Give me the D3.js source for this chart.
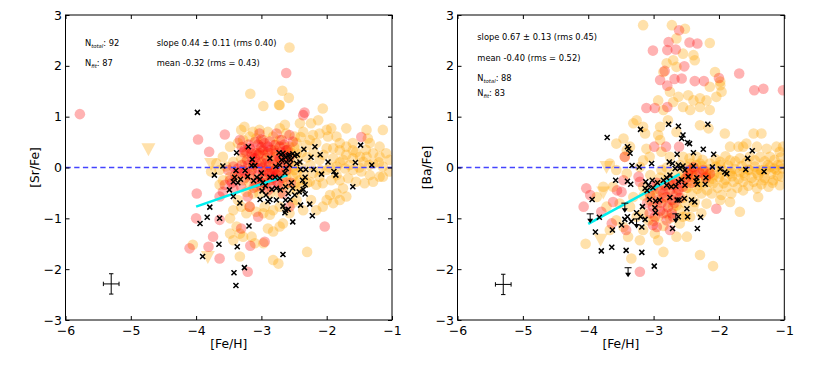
<!DOCTYPE html>
<html><head><meta charset="utf-8">
<script src="https://cdn.jsdelivr.net/npm/d3@7"></script>
<style>body{margin:0;background:#fff}svg{display:block}text{font-family:"DejaVu Sans",sans-serif;fill:#000}</style>
</head><body><svg id="c" width="817" height="372"></svg>
<script>
const xTicks=[-6,-5,-4,-3,-2,-1];
const yTicks=[-3,-2,-1,0,1,2,3];
const xDomain=[-6,-1], yDomain=[-3,3];

// ---------- [Sr/Fe] panel ----------
const srOrange=[[-2.57,2.36],[-2.68,1.51],[-2.58,1.37],[-2.73,1.23],[-3.17,1.45],
[-2.97,1.21],[-2.72,1.23],[-2.06,1.16],[-2.13,0.93],[-2.24,0.87],[-2.41,0.87],[-2.00,0.74],[-1.93,0.77],[-1.70,0.77],[-1.39,0.74],[-1.14,0.74],
[-3.26,0.80],[-3.31,0.74],[-3.13,0.70],[-3.03,0.74],[-2.90,0.70],[-2.72,0.77],[-2.64,0.84],[-2.62,0.67],[-2.49,0.61],[-2.36,0.70],[-2.21,0.64],[-2.11,0.67],[-1.98,0.61],[-1.85,0.61],
[-1.80,0.48],[-1.70,0.41],[-1.60,0.48],[-1.37,0.57],[-1.34,0.48],[-1.19,0.41],[-1.09,0.28],[-1.04,0.15],[-1.19,0.21],[-1.29,0.28],[-1.39,0.21],[-1.49,0.21],[-1.60,0.34],[-1.70,0.25],[-1.80,0.34],[-1.90,0.38],[-2.00,0.38],
[-2.16,0.48],[-2.26,0.54],[-2.31,0.44],[-2.46,0.48],[-2.57,0.41],[-2.72,0.54],[-2.82,0.61],[-2.97,0.54],[-3.08,0.57],[-3.18,0.61],[-3.28,0.54],[-3.36,0.48],[-3.48,0.41],[-3.59,0.21],[-3.69,0.08],[-3.77,-0.08],[-3.64,-0.05],[-3.54,0.02],[-3.43,0.11],[-3.31,0.18],[-3.23,0.28],[-3.08,0.28],[-2.97,0.25],[-2.80,0.34],[-2.46,0.28],
[-2.11,0.15],[-1.90,0.18],[-1.75,0.15],[-1.60,0.18],[-1.44,0.11],[-1.29,0.08],[-1.14,0.02],[-1.04,-0.08],[-1.19,-0.18],[-1.34,-0.15],[-1.47,-0.08],[-1.60,-0.05],[-1.72,-0.02],[-1.85,0.02],[-2.00,-0.05],[-2.11,-0.18],[-2.21,-0.11],[-2.26,-0.28],[-2.16,-0.34],[-2.06,-0.31],[-1.93,-0.25],[-1.80,-0.25],[-1.67,-0.21],[-1.55,-0.28],[-1.42,-0.31],[-1.29,-0.28],[-1.14,-0.18],
[-1.75,-0.41],[-1.85,-0.51],[-1.95,-0.54],[-2.00,-0.64],[-1.90,-0.70],[-1.80,-0.64],[-1.70,-0.57],[-2.06,-0.77],[-2.16,-0.84],[-2.24,-0.64],[-2.36,-0.84],[-2.46,-0.64],[-2.52,-0.70],[-2.57,-0.90],[-2.72,-0.77],[-2.82,-0.84],[-2.87,-0.93],[-2.95,-0.77],[-2.97,-0.90],[-3.08,-0.87],[-3.18,-0.77],[-3.23,-0.90],[-3.31,-0.77],[-3.36,-0.64],[-3.43,-0.84],[-3.48,-1.00],
[-3.38,-1.16],[-3.48,-1.30],[-3.43,-1.43],[-3.33,-1.30],[-3.28,-1.36],[-3.15,-1.36],[-3.10,-1.49],[-2.97,-1.49],[-2.90,-1.20],[-2.82,-1.26],[-2.72,-1.16],[-2.67,-1.10],[-2.82,-1.82],[-2.74,-1.89],[-2.30,-1.66],[-3.33,-1.75],[-4.05,-1.52],
[-3.13,0.02],[-3.03,0.08],[-2.92,-0.05],[-2.82,0.08],[-2.72,-0.05],[-2.62,-0.18],[-2.52,-0.18],[-2.87,-0.25],[-2.97,-0.34],[-3.08,-0.38],[-3.18,-0.31],[-3.28,-0.25],[-3.38,-0.18],[-3.48,-0.18],[-3.59,-0.25],[-3.64,-0.34],[-3.23,-0.48],[-3.13,-0.51],[-3.03,-0.51],[-2.87,-0.51],[-2.72,-0.51],[-2.57,-0.44],[-2.41,-0.38],[-2.41,-0.25],[-2.46,-0.11],[-2.52,0.02],[-2.77,0.21],[-2.87,0.28],[-3.00,0.34],[-2.57,0.11],
[-2.55,0.30],[-2.45,0.15],[-2.40,0.00],[-2.35,-0.15],[-2.30,0.20],[-2.50,-0.05],[-2.65,0.40],[-2.70,0.10],[-2.85,0.00],[-3.00,-0.20],[-3.15,-0.15],[-3.25,0.10],[-2.95,0.15],[-2.75,-0.15],[-2.60,-0.30],[-2.45,-0.45],[-2.30,-0.30],[-2.20,0.30],[-2.05,0.25],[-1.95,0.00],[-1.80,0.10],[-1.65,0.05],[-1.50,0.00],[-1.35,0.05],[-1.20,0.10],[-2.25,0.05],[-2.10,-0.05],[-1.85,-0.15],[-1.55,0.30],[-1.40,0.35],
[-2.62,0.25],[-2.50,0.40],[-2.38,0.30],[-2.60,-0.05],[-2.48,-0.30],[-2.68,-0.35],[-2.78,0.45],[-2.40,0.60]];
const srRed=[[-5.78,1.05],[-2.62,1.86],[-2.34,1.08],[-2.36,1.03],[-3.97,0.55],[-3.80,0.31],[-3.56,0.65],[-3.33,0.54],[-3.03,0.67],[-3.00,0.55],[-2.87,0.51],[-2.77,0.67],[-2.57,0.64],[-2.52,0.51],[-1.47,0.60],
[-3.26,0.34],[-3.15,0.28],[-3.10,0.18],[-3.03,0.28],[-2.92,0.18],[-2.90,0.41],[-2.80,0.44],[-2.72,0.41],[-2.62,0.34],[-2.69,0.54],
[-3.05,-0.02],[-2.97,-0.08],[-3.18,-0.15],[-3.28,-0.05],[-3.36,-0.02],[-3.43,0.02],[-3.51,-0.05],[-3.48,-0.25],[-3.56,-0.34],[-3.59,-0.48],[-3.64,-0.57],[-3.43,-0.41],[-3.31,-0.38],[-3.21,-0.57],[-3.18,-0.77],
[-2.85,-0.38],[-2.72,-0.34],[-2.67,-0.51],[-2.57,-0.77],[-3.05,-0.97],[-3.31,-1.20],[-3.64,-1.03],[-3.74,-1.36],[-3.81,-1.56],[-3.64,-1.79],[-3.99,-0.51],[-4.00,-1.00],[-4.10,-1.59],[-3.21,-2.05],[-3.17,-1.54],[-2.95,-1.46],[-2.03,-1.16],
[-2.87,-0.11],[-2.77,-0.15],[-2.62,-0.05],[-2.57,0.21],[-3.00,0.10],[-2.95,-0.20],[-3.10,-0.30],[-2.80,-0.05],[-2.75,0.10],[-3.20,0.05],[-2.90,0.30],[-3.05,0.45],
[-3.30,0.40],[-3.20,0.45],[-3.10,0.50],[-3.00,0.40],[-2.95,0.48],[-2.85,0.35],[-2.78,0.28],[-2.70,0.30],[-2.65,0.20],[-2.60,0.10],[-2.68,0.00],[-2.75,-0.10],[-2.82,-0.20],[-2.90,-0.10],[-2.98,0.00],[-3.08,0.10],[-3.15,0.20],[-3.22,0.15],[-3.30,0.05],[-3.35,-0.10],[-3.25,-0.20],[-3.15,-0.05],[-3.05,-0.15],[-2.95,-0.30],[-2.85,-0.25],[-2.75,-0.30],[-2.68,-0.20],[-3.12,-0.40],[-3.00,-0.38],[-2.90,-0.45],[-3.40,-0.15],[-3.45,-0.30],[-3.28,0.30],[-2.60,0.35],[-2.55,-0.30],[-2.65,0.45],[-3.05,0.25],[-2.88,0.05],[-2.80,0.15],[-3.18,0.38],
[-3.12,0.05],[-2.93,0.08],[-2.83,-0.08],[-3.02,-0.28],[-3.25,-0.10],[-2.72,0.18],[-2.97,0.35],[-3.12,0.30]];
const srCross=[[-3.98,1.085],[-3.20,0.41],[-3.38,0.29],[-3.59,0.03],[-3.72,-0.15],[-3.14,0.16],[-3.15,0.04],[-3.10,0.04],[-3.39,-0.06],[-3.41,-0.19],[-3.32,-0.23],[-3.43,-0.28],[-3.36,-0.30],[-3.21,-0.18],[-3.25,-0.06],[-3.12,-0.26],[-3.07,-0.19],[-3.02,-0.23],[-3.00,-0.11],[-2.98,-0.30],
[-2.87,0.18],[-2.73,0.29],[-2.70,0.25],[-2.67,0.28],[-2.63,0.20],[-2.59,0.23],[-2.57,0.25],[-2.52,0.27],[-2.49,0.23],[-2.45,0.25],[-2.55,0.15],[-2.62,0.11],[-2.69,0.15],[-2.72,0.05],[-2.78,0.02],[-2.62,-0.02],[-2.57,0.05],[-2.64,-0.11],[-2.72,-0.21],[-2.79,-0.19],[-2.87,-0.19],
[-2.94,-0.36],[-2.99,-0.46],[-2.93,-0.54],[-2.84,-0.43],[-2.77,-0.41],[-2.71,-0.44],[-2.63,-0.38],[-2.54,-0.30],[-2.52,-0.41],[-2.59,-0.51],[-2.49,-0.54],[-2.56,-0.63],[-2.63,-0.64],[-2.67,-0.76],[-2.63,-0.84],[-2.59,-0.82],[-2.64,-0.89],[-2.77,-0.64],[-2.87,-0.63],[-2.90,-0.67],[-3.02,-0.63],
[-3.33,-0.70],[-3.43,-0.57],[-3.49,-0.44],[-3.79,-0.78],[-3.83,-0.98],[-3.64,-1.00],[-3.94,-1.10],[-3.19,-1.15],[-3.65,-1.51],[-3.37,-1.56],[-3.90,-1.75],[-3.26,-1.97],[-3.42,-2.07],[-3.39,-2.32],[-2.67,-1.71],[-2.52,-1.07],[-2.22,-0.95],[-2.26,-0.72],[-2.40,-0.74],
[-1.60,-0.38],[-1.31,0.05],[-1.48,0.44],[-1.56,0.10],[-1.98,0.11],[-1.89,-0.08],[-1.86,-0.15],[-2.08,-0.13],[-2.10,0.25],[-2.18,0.41],[-2.20,-0.04],[-2.24,0.20],[-2.35,0.36],[-2.32,-0.04],[-2.40,-0.04],[-2.33,-0.19],[-2.37,-0.25],[-2.33,-0.34],[-2.36,-0.43],[-2.33,-0.52],[-2.42,-0.48],[-2.41,0.11],[-2.46,0.08]];
const srTri=[[-4.73,0.35],[-3.77,0.06],[-3.82,-1.77]];
const srUpper=[];
const srFit=[[-4.0,-0.77],[-2.6,-0.15]];
const srErr={x:-5.30,y:-2.29,dx:0.12,dy:0.20};
const srNotes={nTotal:92,nFit:87,slope:"slope 0.44 \u00b1 0.11 (rms 0.40)",mean:"mean -0.32 (rms = 0.43)"};

// ---------- [Ba/Fe] panel ----------
const baOrange=[[-3.16,2.80],[-2.72,2.80],[-2.52,2.73],[-2.65,2.54],[-2.14,2.45],[-2.55,2.24],[-2.39,2.21],[-2.37,2.11],[-2.80,2.05],[-2.70,2.11],[-2.65,1.98],[-2.85,1.88],
[-2.75,1.49],[-2.62,1.39],[-2.47,1.42],[-2.39,1.32],[-2.29,1.36],[-2.19,1.32],[-2.04,1.39],[-1.96,1.49],[-1.98,1.62],[-2.06,1.88],[-1.98,1.69],[-2.14,1.59],[-2.93,1.32],[-2.70,1.29],[-2.55,1.19],[-2.85,1.13],[-2.44,1.13],[-2.29,1.19],[-2.14,1.13],
[-3.26,0.93],[-3.16,0.80],[-3.13,0.67],[-3.31,0.87],[-2.90,0.80],[-2.78,0.93],[-2.65,0.70],[-2.29,0.83],[-2.16,0.77],[-1.91,0.67],[-1.47,0.67],[-1.35,0.67],[-1.58,0.47],[-1.63,0.41],[-1.70,0.41],[-1.83,0.41],
[-3.46,0.57],[-3.41,0.34],[-3.57,0.47],[-3.11,0.37],[-3.06,0.21],[-2.90,0.54],[-2.93,0.64],[-2.88,0.31],[-2.75,0.21],[-2.55,0.21],[-2.34,0.21],
[-2.44,0.08],[-2.29,0.08],[-2.14,0.08],[-1.98,0.11],[-1.83,0.14],[-1.68,0.18],[-1.53,0.21],[-1.37,0.21],[-1.22,0.21],[-1.07,0.31],[-1.02,0.41],[-1.12,0.41],[-1.27,0.37],[-1.42,0.41],
[-1.22,0.01],[-1.12,-0.05],[-1.02,-0.02],[-1.37,-0.05],[-1.53,-0.05],[-1.68,-0.09],[-1.83,-0.12],[-1.98,-0.12],[-2.14,-0.12],[-2.29,-0.12],[-2.42,-0.12],
[-2.37,-0.28],[-2.24,-0.31],[-2.09,-0.31],[-1.93,-0.31],[-1.78,-0.28],[-1.63,-0.28],[-1.47,-0.28],[-1.32,-0.25],[-1.17,-0.25],[-1.04,-0.18],[-1.07,-0.35],[-1.24,-0.38],[-1.42,-0.41],[-1.63,-0.45],[-1.81,-0.51],[-1.96,-0.54],[-2.11,-0.51],[-2.27,-0.51],[-2.42,-0.51],
[-2.37,-0.68],[-2.19,-0.71],[-1.98,-0.64],[-1.83,-0.68],[-1.40,-0.58],[-1.68,-0.87],[-2.27,-0.90],[-2.44,-0.97],
[-4.04,-1.50],[-3.67,-1.23],[-3.57,-1.04],[-3.46,-1.17],[-3.39,-1.36],[-3.34,-1.79],[-3.21,-1.43],[-3.16,-1.23],[-3.08,-1.04],[-2.98,-1.30],[-2.93,-1.43],[-2.85,-1.66],[-2.65,-1.36],[-2.49,-1.36],[-2.29,-1.72],[-2.09,-1.94],
[-2.93,-0.97],[-2.80,-0.90],[-2.70,-0.77],[-2.60,-0.84],[-2.55,-0.97],[-2.39,-0.77],
[-3.36,0.41],[-3.44,0.21],[-3.67,0.08],[-3.57,-0.05],[-3.41,-0.12],[-3.16,0.14],[-3.21,0.01],[-3.62,-0.38],[-3.77,-0.38],[-3.87,-0.58],[-3.72,-0.77],[-3.52,-0.71],[-3.31,-0.58],[-3.16,-0.38],[-3.06,-0.51],[-3.16,-0.90],[-3.26,-0.97],[-3.36,-0.77],
[-2.90,-0.20],[-2.75,-0.35],[-2.60,-0.20],[-2.50,-0.40],[-2.70,-0.55],[-2.85,-0.60],[-3.00,-0.45],[-2.55,-0.60],[-2.45,-0.25],[-2.60,0.05],[-2.80,0.00],[-3.05,-0.15],[-2.95,-0.75],[-2.75,-1.00],[-2.60,-1.10],[-2.85,-1.15],[-3.00,-1.05],[-2.50,-0.95],
[-2.50,0.02],[-2.38,-0.03],[-2.26,0.03],[-2.16,-0.04],[-2.05,0.02],[-1.95,-0.05],[-1.86,0.04],[-1.76,-0.03],[-1.65,0.03],[-1.55,-0.04],[-1.45,0.02],[-1.35,-0.06],[-1.25,0.05],[-1.15,-0.02],[-1.05,0.06],
[-2.52,-0.22],[-2.40,-0.18],[-2.30,-0.25],[-2.20,-0.17],[-2.10,-0.22],[-2.00,-0.19],[-1.90,-0.24],[-1.80,-0.17],[-1.70,-0.22],[-1.60,-0.16],[-1.50,-0.20],[-1.40,-0.15],[-1.30,-0.20],[-1.20,-0.12],[-1.10,-0.16],
[-2.45,0.18],[-2.25,0.15],[-2.05,0.16],[-1.90,0.22],[-1.75,0.12],[-1.58,0.10],[-1.45,0.14],[-1.30,0.12],[-1.15,0.15],[-1.05,0.20],
[-2.48,-0.40],[-2.33,-0.42],[-2.18,-0.45],[-2.02,-0.40],[-1.88,-0.38],[-1.72,-0.40],[-1.55,-0.36],[-1.35,-0.33],[-1.18,-0.30],
[-2.92,-0.35],[-2.82,-0.45],[-2.70,-0.30],[-2.62,-0.42],[-2.55,-0.15],[-2.68,-0.10],[-2.78,-0.20],[-2.88,-0.05],[-2.95,-0.55],[-2.80,-0.70],[-2.65,-0.75],[-2.52,-0.70],[-3.05,-0.65],[-3.15,-0.55],
[-2.35,0.05],[-2.20,-0.08],[-2.08,-0.15],[-1.98,0.05],[-1.82,-0.08],[-1.62,-0.10],[-1.42,-0.10],[-1.28,-0.05],[-1.10,0.05],[-2.45,-0.08],[-2.32,-0.35],[-2.15,-0.28]];
const baRed=[[-2.61,2.70],[-2.77,2.47],[-2.79,2.31],[-2.66,2.32],[-2.45,2.46],[-2.33,2.44],[-3.01,2.30],[-2.53,1.99],[-2.83,1.90],[-2.90,1.72],[-2.79,1.61],[-2.68,1.74],[-2.57,1.75],[-2.37,1.70],[-2.23,1.70],[-2.00,1.76],[-1.69,1.85],[-1.46,1.52],[-1.32,1.55],[-1.02,1.52],
[-3.11,1.17],[-2.98,1.17],[-2.79,1.19],[-2.99,0.41],[-2.81,0.41],[-2.61,0.41],[-3.23,-0.18],[-3.21,-0.28],[-3.44,0.21],
[-4.03,-0.41],[-3.97,-0.54],[-4.07,-0.77],[-3.80,-0.87],[-3.64,-1.10],[-3.42,-1.23],[-3.21,-2.05],[-3.56,-0.45],[-3.49,-0.48],[-3.62,-0.68],[-3.01,-1.13],[-2.04,-0.81],
[-3.01,-0.38],[-2.90,-0.45],[-2.83,-0.35],[-2.75,-0.25],[-2.65,-0.25],[-2.80,-0.58],[-2.93,-0.64],[-3.01,-0.77],[-2.85,-0.90],[-2.72,-0.64],[-2.65,-0.51],[-2.55,-0.38],[-2.47,-0.12],[-2.39,0.01],[-2.24,-0.05],[-2.14,-0.12],
[-2.70,-0.97],[-2.98,-0.97],[-2.95,-1.17],[-2.80,-1.04],[-3.06,-0.90],[-2.75,-1.23],[-3.46,-0.25],
[-2.95,-0.30],[-2.85,-0.50],[-2.75,-0.45],[-2.70,-0.35],[-2.62,-0.45],[-2.58,-0.30],[-2.50,-0.20],[-2.42,-0.30],[-2.35,-0.15],[-2.88,-0.70],[-2.78,-0.78],[-2.68,-0.70],[-3.05,-0.55],[-3.10,-0.70],[-2.90,-0.85],[-2.72,-0.90],[-2.60,-0.60],[-2.45,-0.05],[-2.30,-0.10],[-2.20,-0.20]];
const baCross=[[-3.71,0.59],[-3.20,0.75],[-2.77,0.85],[-2.62,0.81],[-2.17,0.85],[-2.55,0.64],[-2.57,0.57],[-3.40,0.41],[-3.38,0.37],[-3.36,0.28],[-2.48,0.49],[-2.45,0.47],[-2.24,0.36],[-2.08,0.26],[-1.49,0.33],[-1.56,0.18],[-2.39,0.29],[-2.64,0.26],
[-2.76,0.11],[-2.71,0.08],[-2.62,0.05],[-2.60,-0.02],[-2.55,0.03],[-2.52,-0.05],[-2.67,-0.02],[-2.47,-0.18],[-2.39,0.03],[-2.34,-0.20],[-2.35,-0.27],[-2.33,-0.33],[-2.20,-0.20],[-2.21,-0.33],[-2.10,0.01],[-1.98,-0.03],[-1.91,-0.09],[-1.88,-0.12],[-1.59,-0.04],[-1.31,-0.08],
[-3.58,-0.25],[-3.40,-0.27],[-3.35,-0.33],[-3.12,-0.28],[-3.02,-0.25],[-3.08,-0.35],[-3.13,-0.41],[-3.10,-0.45],[-3.01,-0.40],[-2.94,-0.30],[-2.85,-0.25],[-2.80,-0.20],[-2.75,-0.15],[-2.80,-0.35],[-2.73,-0.38],[-2.66,-0.37],[-2.62,-0.28],[-2.57,-0.24],[-2.52,-0.35],
[-2.75,-0.59],[-2.64,-0.64],[-2.61,-0.64],[-2.53,-0.61],[-2.42,-0.64],[-2.37,-0.68],[-2.49,-0.81],[-2.48,-0.97],[-2.28,-0.98],[-2.33,-1.20],[-2.71,-1.20],[-2.62,-0.97],
[-2.91,-0.64],[-2.97,-0.66],[-3.06,-0.63],[-2.98,-0.79],[-2.97,-0.89],[-3.26,-0.89],[-3.17,-0.77],[-3.20,-0.97],[-3.13,-1.02],[-3.18,-1.17],[-3.34,-1.06],[-3.40,-0.97],[-3.44,-1.02],[-3.49,-1.13],
[-3.94,-0.63],[-3.89,-1.27],[-3.80,-1.64],[-3.64,-1.57],[-3.63,-1.23],[-3.18,-1.67],[-2.99,-1.94],[-3.83,-0.98],[-3.42,-1.63],[-3.03,0.08],[-3.33,0.04],[-3.22,0.01]];
const baTri=[[-3.72,0.0],[-3.77,-0.5],[-3.81,-1.43]];
const baUpper=[[-3.97,-1.01],[-3.44,-0.80],[-3.26,-1.11],[-3.39,-2.07],[-2.66,-1.01]];
const baFit=[[-4.0,-1.11],[-2.6,-0.13]];
const baErr={x:-5.30,y:-2.30,dx:0.12,dy:0.20};
const baNotes={nTotal:88,nFit:83,slope:"slope 0.67 \u00b1 0.13 (rms 0.45)",mean:"mean -0.40 (rms = 0.52)"};

// ---------- layout ----------
const plotTop=15,plotBottom=320;
const panels=[
 {x0:65.5,x1:392,label:"[Sr/Fe]",labelX:38.5,orange:srOrange,red:srRed,cross:srCross,tri:srTri,upper:srUpper,fit:srFit,err:srErr,notes:srNotes,
  notePos:{nTotal:[85,46],nFit:[85,66],slope:[156.7,46],mean:[156.7,66]}},
 {x0:457.5,x1:784.3,label:"[Ba/Fe]",labelX:431,orange:baOrange,red:baRed,cross:baCross,tri:baTri,upper:baUpper,fit:baFit,err:baErr,notes:baNotes,
  notePos:{slope:[477.3,39.5],mean:[477.3,60.5],nTotal:[477.3,81],nFit:[477.3,96]}}
];
const svg=d3.select("#c");
panels.forEach((p,i)=>{
  const x=d3.scaleLinear().domain(xDomain).range([p.x0,p.x1]);
  const y=d3.scaleLinear().domain(yDomain).range([plotBottom,plotTop]);
  const g=svg.append("g");
  const cid="clip"+i;
  svg.append("clipPath").attr("id",cid).append("rect").attr("x",p.x0).attr("y",plotTop).attr("width",p.x1-p.x0).attr("height",plotBottom-plotTop);
  const pg=g.append("g").attr("clip-path",`url(#${cid})`);
  pg.selectAll("circle.o").data(p.orange).join("circle").attr("class","o")
    .attr("cx",d=>x(d[0])).attr("cy",d=>y(d[1])).attr("r",5.3).attr("fill","#ffa500").attr("fill-opacity",0.33);
  pg.selectAll("path.t").data(p.tri).join("path").attr("class","t")
    .attr("d",d=>{const cx=x(d[0]),cy=y(d[1]);return `M${cx-7},${cy-6.5}L${cx+7},${cy-6.5}L${cx},${cy+6.5}Z`;})
    .attr("fill","#ffa500").attr("fill-opacity",0.33);
  pg.selectAll("circle.r").data(p.red).join("circle").attr("class","r")
    .attr("cx",d=>x(d[0])).attr("cy",d=>y(d[1])).attr("r",5.3).attr("fill","#ff0000").attr("fill-opacity",0.3);
  pg.append("line").attr("x1",x(xDomain[0])).attr("x2",x(xDomain[1])).attr("y1",y(0)).attr("y2",y(0))
    .attr("stroke","#4444ff").attr("stroke-width",1.4).attr("stroke-dasharray","5.3,3.4");
  pg.append("line").attr("x1",x(p.fit[0][0])).attr("y1",y(p.fit[0][1])).attr("x2",x(p.fit[1][0])).attr("y2",y(p.fit[1][1]))
    .attr("stroke","#00eeee").attr("stroke-width",2.6);
  pg.selectAll("path.x").data(p.cross).join("path").attr("class","x")
    .attr("d",d=>{const cx=x(d[0]),cy=y(d[1]),s=2.5;return `M${cx-s},${cy-s}L${cx+s},${cy+s}M${cx-s},${cy+s}L${cx+s},${cy-s}`;})
    .attr("stroke","#000").attr("stroke-width",1.5).attr("fill","none");
  p.upper.forEach(d=>{
    const cx=x(d[0]),cy=y(d[1]);
    pg.append("path").attr("d",`M${cx-3.5},${cy-5}L${cx+3.5},${cy-5}M${cx},${cy-5}L${cx},${cy+1}`).attr("stroke","#000").attr("stroke-width",1);
    pg.append("path").attr("d",`M${cx-3},${cy}L${cx+3},${cy}L${cx},${cy+4.5}Z`).attr("fill","#000");
  });
  const e=p.err, ex=x(e.x), ey=y(e.y);
  g.append("path").attr("d",
    `M${x(e.x-e.dx)},${ey}L${x(e.x+e.dx)},${ey}M${ex},${y(e.y-e.dy)}L${ex},${y(e.y+e.dy)}`+
    `M${x(e.x-e.dx)},${ey-2.2}L${x(e.x-e.dx)},${ey+2.2}M${x(e.x+e.dx)},${ey-2.2}L${x(e.x+e.dx)},${ey+2.2}`+
    `M${ex-2.2},${y(e.y-e.dy)}L${ex+2.2},${y(e.y-e.dy)}M${ex-2.2},${y(e.y+e.dy)}L${ex+2.2},${y(e.y+e.dy)}`)
    .attr("stroke","#000").attr("stroke-width",1).attr("fill","none");
  const fmt=d3.format("d");
  const ax=[
    g.append("g").attr("transform",`translate(0,${plotBottom})`).call(d3.axisBottom(x).tickValues(xTicks).tickFormat(fmt).tickSize(-4).tickPadding(6)),
    g.append("g").attr("transform",`translate(${p.x0},0)`).call(d3.axisLeft(y).tickValues(yTicks).tickFormat(fmt).tickSize(-4).tickPadding(3.5)),
    g.append("g").attr("transform",`translate(0,${plotTop})`).call(d3.axisTop(x).tickValues(xTicks).tickSize(-4).tickFormat("")),
    g.append("g").attr("transform",`translate(${p.x1},0)`).call(d3.axisRight(y).tickValues(yTicks).tickSize(-4).tickFormat(""))
  ];
  ax.forEach(a=>{a.select(".domain").remove();a.selectAll("line").attr("stroke","#000");
    a.attr("font-size",12.5).attr("font-family","DejaVu Sans");
    a.selectAll("text").attr("font-size",12.5).attr("fill","#000");});
  g.append("rect").attr("x",p.x0).attr("y",plotTop).attr("width",p.x1-p.x0).attr("height",plotBottom-plotTop)
    .attr("fill","none").attr("stroke","#000").attr("stroke-width",1);
  g.append("text").attr("x",(p.x0+p.x1)/2).attr("y",348).attr("text-anchor","middle").attr("font-size",12.3).text("[Fe/H]");
  g.append("text").attr("transform",`translate(${p.labelX},${(plotTop+plotBottom)/2}) rotate(-90)`).attr("text-anchor","middle").attr("font-size",12.3).text(p.label);
  const fs=8.3, np=p.notePos;
  const t1=g.append("text").attr("x",np.nTotal[0]).attr("y",np.nTotal[1]).attr("font-size",fs);
  t1.append("tspan").text("N");
  t1.append("tspan").attr("font-size",5.3).attr("font-style","italic").attr("dy",1.8).text("total");
  t1.append("tspan").attr("dy",-1.8).text(": "+p.notes.nTotal);
  const t2=g.append("text").attr("x",np.nFit[0]).attr("y",np.nFit[1]).attr("font-size",fs);
  t2.append("tspan").text("N");
  t2.append("tspan").attr("font-size",5.3).attr("font-style","italic").attr("dy",1.8).text("fit");
  t2.append("tspan").attr("dy",-1.8).text(": "+p.notes.nFit);
  g.append("text").attr("x",np.slope[0]).attr("y",np.slope[1]).attr("font-size",fs).text(p.notes.slope);
  g.append("text").attr("x",np.mean[0]).attr("y",np.mean[1]).attr("font-size",fs).text(p.notes.mean);
});
</script></body></html>
